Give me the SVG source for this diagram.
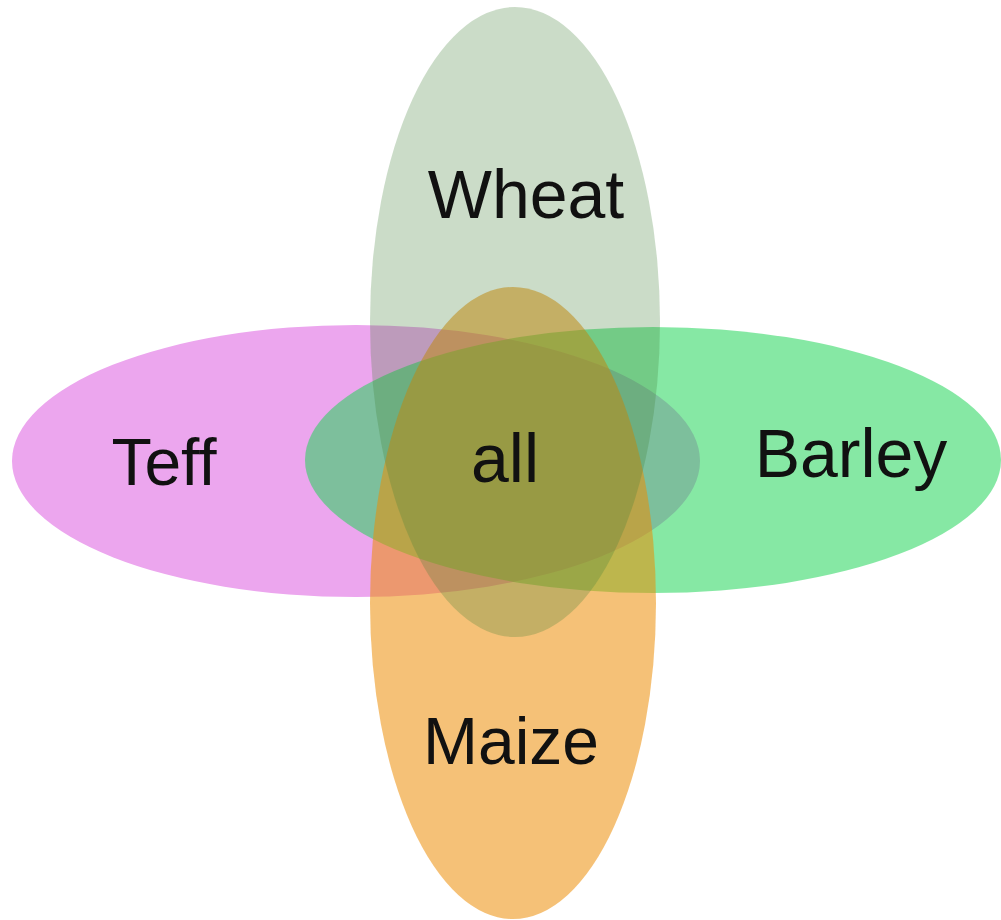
<svg xmlns="http://www.w3.org/2000/svg" width="1001" height="920" viewBox="0 0 1001 920">
<style>
.lbl{font-family:"Liberation Sans",Arial,sans-serif;font-size:68px;fill:#111;text-anchor:middle}
</style>
<rect width="1001" height="920" fill="#fff"/>
<g id="teff"><ellipse cx="356" cy="461" rx="344" ry="136" fill="#eca6ee"/></g>
<g id="barley"><ellipse cx="653" cy="460" rx="348" ry="133" fill="#1fd456" opacity="0.54"/></g>
<g id="maize"><ellipse cx="513" cy="603" rx="143" ry="316" fill="#ec8c03" opacity="0.54"/></g>
<g id="wheat"><ellipse cx="515" cy="322" rx="145" ry="315" fill="#45823b" opacity="0.28"/></g>
<g id="connectors"></g>
<g id="labels">
<text class="lbl" x="526" y="218">Wheat</text>
<text class="lbl" x="164" y="485" style="font-size:66px">Teff</text>
<text class="lbl" x="851" y="477">Barley</text>
<text class="lbl" x="511" y="764" style="font-size:66px">Maize</text>
<text class="lbl" x="505" y="482">all</text>
</g>
</svg>
